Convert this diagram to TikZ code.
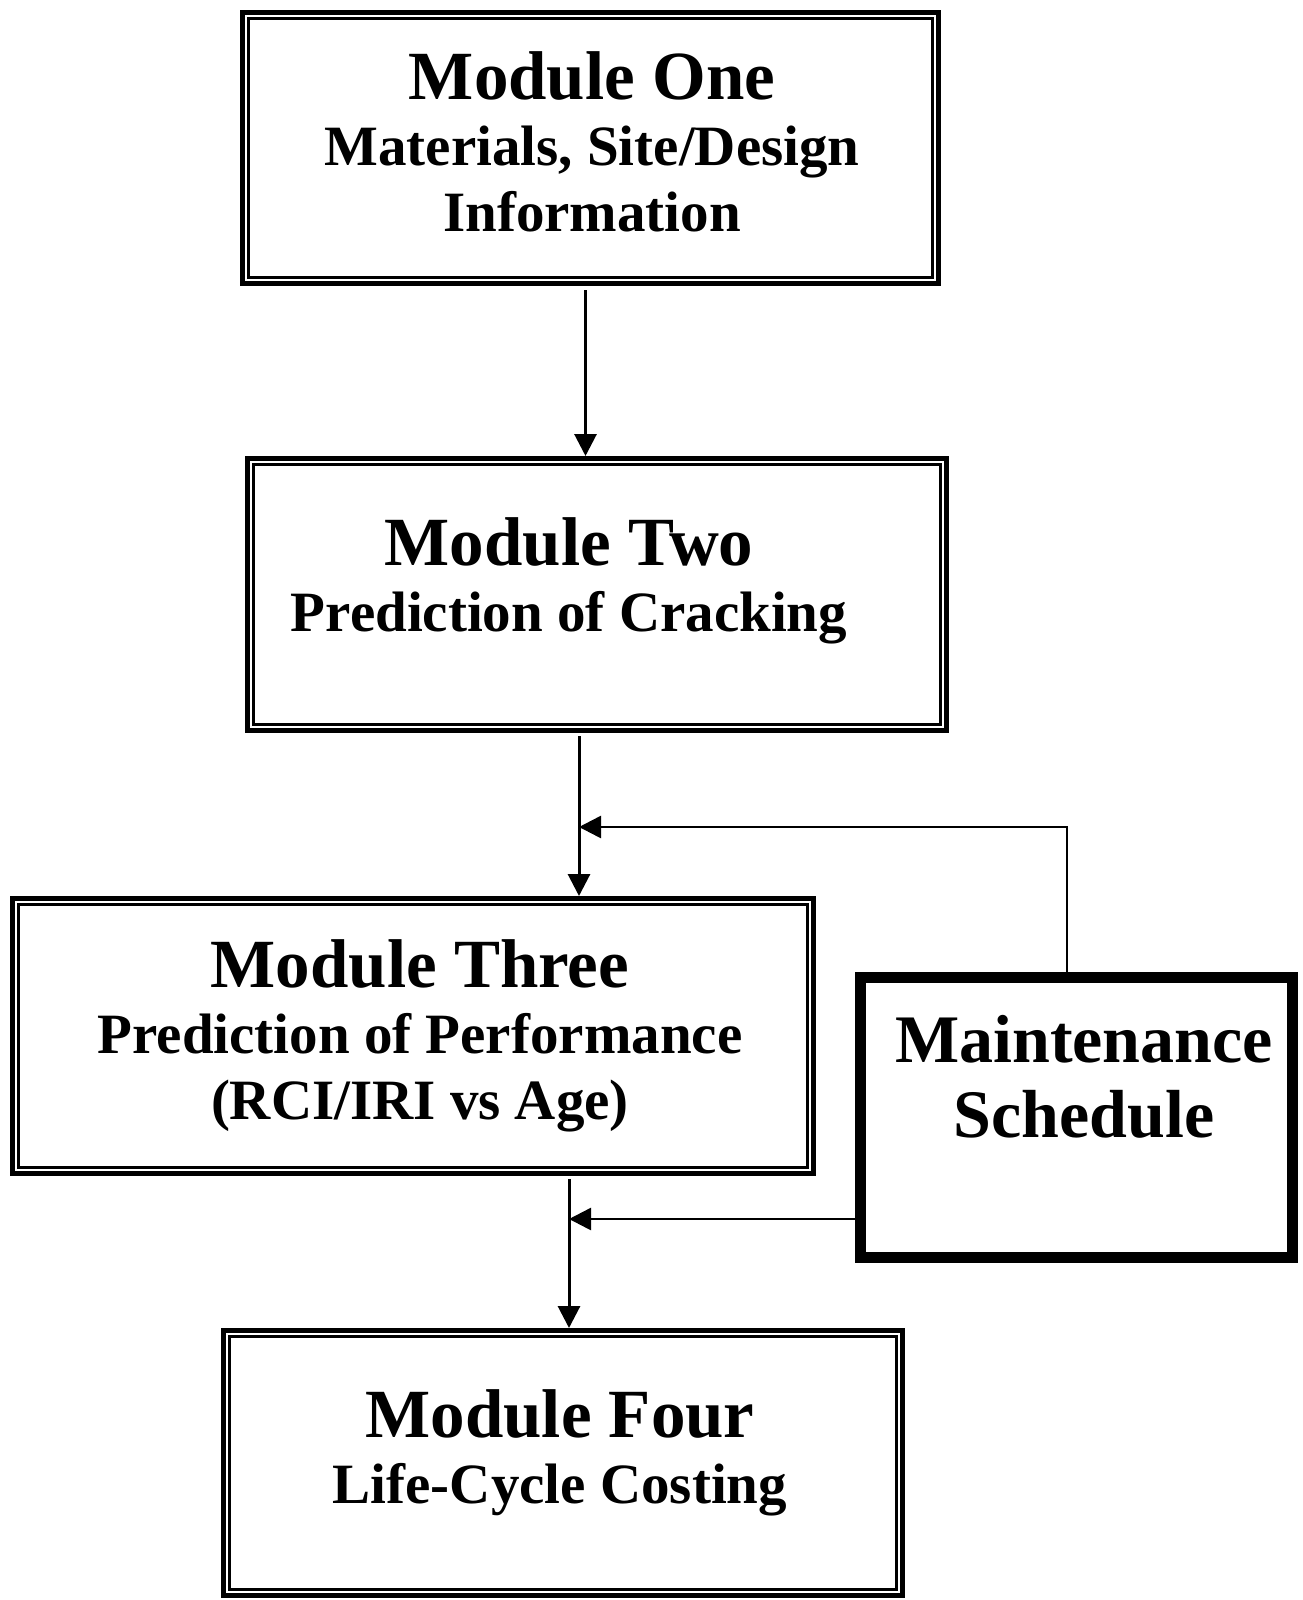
\documentclass[tikz,border=0pt]{standalone}
\usepackage{fontspec}
\setmainfont{Liberation Serif}
\usetikzlibrary{positioning}
\usetikzlibrary{arrows.meta}
\newcommand{\modtitle}{\fontsize{34.5}{33}\selectfont}
\tikzset{
    modbox/.style = {rectangle, draw=black, line width=2.5pt, inner sep=0pt},
    maintbox/.style = {rectangle, draw=black, line width=5.5pt, inner sep=0pt},
    modframe/.style = {draw=black, line width=1.5pt},
    modtext/.style = {align=center, inner sep=0pt, font=\bfseries\fontsize{28.5}{33}\selectfont},
    mainttext/.style = {align=center, inner sep=0pt, font=\bfseries\fontsize{34}{37.5}\selectfont},
    edgea/.style = {-{Triangle[length=11pt,width=11pt]}, line width=1.5pt, black},
    edgef/.style = {-{Triangle[length=11pt,width=11pt]}, line width=1.3pt, black}
}
\begin{document}
\begin{tikzpicture}[x=0.5pt, y=-0.5pt]
\useasboundingbox (0,0) rectangle (1302,1600);
\node[modbox, minimum width=348pt, minimum height=135.5pt] at (590.5, 148) (one) {};
\node[modbox, minimum width=349.5pt, minimum height=136pt] at (597, 594.5) (two) {};
\node[modbox, minimum width=400.5pt, minimum height=137.5pt] at (413, 1036) (three) {};
\node[modbox, minimum width=339.5pt, minimum height=132.5pt] at (563, 1463) (four) {};
\node[maintbox, minimum width=216pt, minimum height=140pt] at (1076.5, 1117.5) (maint) {};
\foreach \n in {one, two, three, four}
  \draw[modframe] ([shift={(8.5,8.5)}]\n.north west) rectangle ([shift={(-8.5,-8.5)}]\n.south east);
%
\node[modtext] at (592, 142) (t1) {{\modtitle Module One}\\Materials, Site/Design\\Information};
\node[modtext] at (569, 581) (t2) {{\modtitle Module Two}\\Prediction of Cracking};
\node[modtext] at (420, 1036) (t3) {{\modtitle Module Three}\\Prediction of Performance\\(RCI/IRI vs Age)};
\node[modtext] at (560, 1453) (t4) {{\modtitle Module Four}\\Life-Cycle Costing};
\node[mainttext] at (1084, 1077) (t5) {Maintenance\\Schedule};
%
\coordinate (j1) at (579, 827);
\coordinate (j2) at (569, 1219);
\draw[edgea] ([shift={(-5,4)}]one.south) -- ([xshift=-2.5pt]one.south |- two.north);
\draw[edgea] ([yshift=-1.5pt]j1 |- two.south) -- (j1 |- three.north);
\draw[edgea] ([yshift=-1.5pt]j2 |- three.south) -- (j2 |- four.north);
\draw[edgef] ([xshift=-4.75pt]maint.north) |- (j1);
\draw[edgef] (maint.west |- j2) -- (j2);
\end{tikzpicture}
\end{document}
